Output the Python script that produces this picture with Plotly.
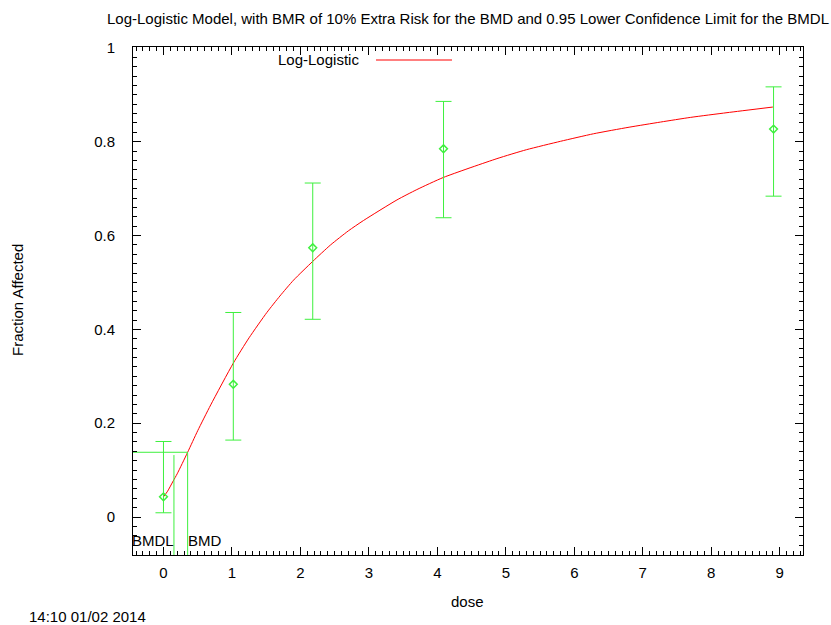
import plotly.graph_objects as go

# ---- data ----
dose = [0.0, 1.02, 2.18, 4.09, 8.91]
frac_affected = [0.043, 0.283, 0.574, 0.785, 0.827]
ci_upper = [0.161, 0.436, 0.712, 0.886, 0.917]
ci_lower = [0.009, 0.164, 0.4215, 0.638, 0.684]

curve_dose = [0.0, 0.06, 0.143, 0.2, 0.353, 0.5, 0.69, 1.02, 1.25, 1.51, 1.7, 1.9,
              2.18, 2.44, 2.7, 2.92, 3.41, 3.7, 4.09, 4.87, 5.3, 5.8, 6.28, 6.8,
              7.26, 7.7, 8.23, 8.9]
curve_frac = [0.043, 0.055, 0.077, 0.092, 0.138, 0.184, 0.239, 0.328, 0.382, 0.436,
              0.471, 0.505, 0.545, 0.580, 0.610, 0.632, 0.676, 0.698, 0.724, 0.764,
              0.783, 0.801, 0.817, 0.831, 0.842, 0.852, 0.862, 0.874]

bmd = 0.353
bmdl = 0.153
bmr_level = 0.138
bmdl_top = 0.132

x_range = [-0.445, 9.34]
y_range = [-0.081, 1.002]
x_ticks = [0, 1, 2, 3, 4, 5, 6, 7, 8, 9]
y_ticks = [0, 0.2, 0.4, 0.6, 0.8, 1]
y_tick_text = ["0", "0.2", "0.4", "0.6", "0.8", "1"]

GREEN = "#3ef03e"
RED = "#ff0000"
FONT = "Liberation Sans, Arial, sans-serif"
FS = 15

fig = go.Figure()

# fitted curve
fig.add_trace(go.Scatter(x=curve_dose, y=curve_frac, mode="lines",
                         line=dict(color=RED, width=1, shape="spline", smoothing=0.6),
                         showlegend=False, hoverinfo="skip"))

# observed data with CI error bars
err_plus = [u - f for u, f in zip(ci_upper, frac_affected)]
err_minus = [f - l for f, l in zip(frac_affected, ci_lower)]
fig.add_trace(go.Scatter(x=dose, y=frac_affected, mode="markers",
                         marker=dict(symbol="diamond-open", size=6,
                                     color=GREEN, line=dict(color=GREEN, width=1.5)),
                         error_y=dict(type="data", array=err_plus, arrayminus=err_minus,
                                      color=GREEN, thickness=1, width=8),
                         showlegend=False))

# BMR horizontal line and BMD / BMDL verticals
fig.add_trace(go.Scatter(x=[x_range[0], bmd], y=[bmr_level, bmr_level], mode="lines",
                         line=dict(color=GREEN, width=1), showlegend=False))
fig.add_trace(go.Scatter(x=[bmd, bmd], y=[bmr_level, y_range[0]], mode="lines",
                         line=dict(color=GREEN, width=1), showlegend=False))
fig.add_trace(go.Scatter(x=[bmdl, bmdl], y=[bmdl_top, y_range[0]], mode="lines",
                         line=dict(color=GREEN, width=1), showlegend=False))

axis_common = dict(showline=True, linecolor="black", linewidth=1, mirror="allticks",
                   ticks="inside", ticklen=8, tickcolor="black", tickwidth=1,
                   showgrid=False, zeroline=False,
                   tickfont=dict(family=FONT, size=FS, color="black"))

fig.update_xaxes(range=x_range, tickvals=x_ticks, ticklabelstandoff=4,
                 minor=dict(ticks="inside", ticklen=4, dtick=0.1, tick0=0,
                            tickcolor="black", showgrid=False),
                 **axis_common)
fig.update_yaxes(range=y_range, tickvals=y_ticks, ticktext=y_tick_text,
                 ticklabelstandoff=14,
                 minor=dict(ticks="inside", ticklen=4, dtick=0.02, tick0=0,
                            tickcolor="black", showgrid=False),
                 **axis_common)

W, H = 831, 625
L, R, T, B = 133, 28, 47, 70
pw, ph = W - L - R, H - T - B

def px(xp):
    return (xp - L) / pw

def py(yp):
    return (H - B - yp) / ph

txt_font = dict(family=FONT, size=FS, color="black")
annotations = [
    dict(text="Log-Logistic Model, with BMR of 10% Extra Risk for the BMD and 0.95 Lower Confidence Limit for the BMDL",
         xref="paper", yref="paper", x=px(468), y=py(18), xanchor="center", yanchor="middle",
         showarrow=False, font=txt_font),
    dict(text="Fraction Affected", textangle=-90, xref="paper", yref="paper",
         x=px(17), y=py(300), xanchor="center", yanchor="middle", showarrow=False,
         font=txt_font),
    dict(text="dose", xref="paper", yref="paper", x=px(467), y=py(601),
         xanchor="center", yanchor="middle", showarrow=False, font=txt_font),
    dict(text="14:10 01/02 2014", xref="paper", yref="paper", x=px(27), y=py(616),
         xanchor="left", yanchor="middle", showarrow=False, font=txt_font),
    dict(text="Log-Logistic", xref="paper", yref="paper", x=px(361), y=py(60),
         xanchor="right", yanchor="middle", showarrow=False, font=txt_font),
    dict(text="BMDL", xref="x", yref="y", x=bmdl, y=-0.051, xanchor="right",
         yanchor="middle", showarrow=False, xshift=2, font=txt_font),
    dict(text="BMD", xref="x", yref="y", x=bmd, y=-0.051, xanchor="left",
         yanchor="middle", showarrow=False, xshift=-2, font=txt_font),
]

shapes = [dict(type="line", xref="paper", yref="paper", x0=px(376), x1=px(452),
               y0=py(60), y1=py(60), line=dict(color=RED, width=1))]

fig.update_layout(width=W, height=H, margin=dict(l=L, r=R, t=T, b=B),
                  paper_bgcolor="white", plot_bgcolor="white",
                  annotations=annotations, shapes=shapes, showlegend=False,
                  font=txt_font)

fig.write_html("out.html", config={"displayModeBar": False},
               post_script="document.body.style.margin='0';document.body.style.padding='0';")
